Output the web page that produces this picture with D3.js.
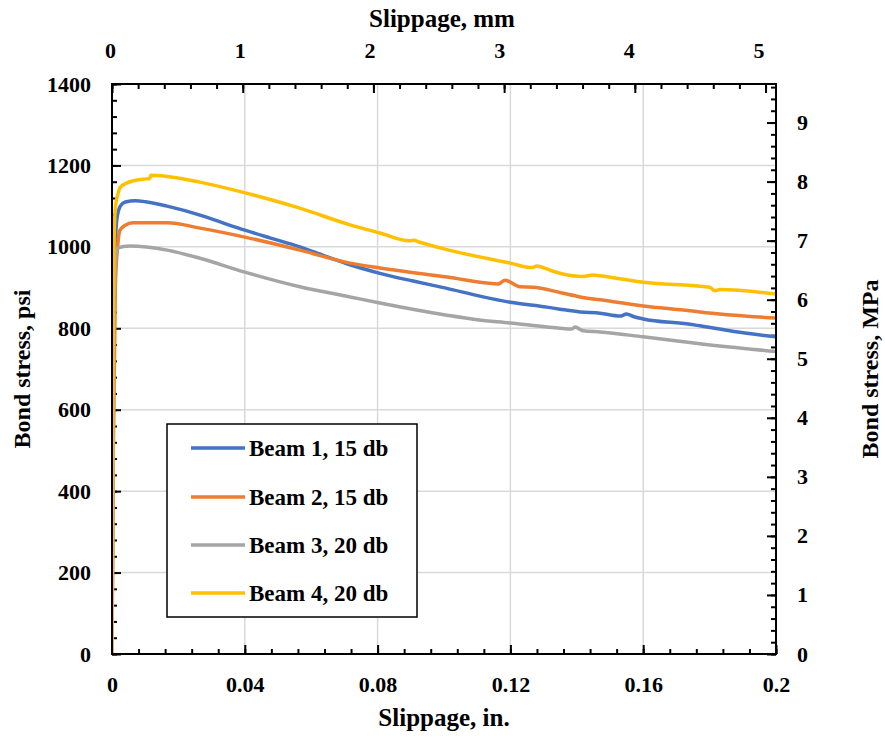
<!DOCTYPE html>
<html>
<head>
<meta charset="utf-8">
<script src="https://cdn.jsdelivr.net/npm/d3@7"></script>
<style>
  html, body { margin: 0; padding: 0; background: #fff; }
  svg text { font-family: "Liberation Serif", "Times New Roman", serif; font-weight: bold; fill: #000; }
</style>
</head>
<body>
<svg id="chart" width="885" height="738"></svg>
<script>
// ---------------- DATA ----------------
const seriesNames = ["Beam 1, 15 db", "Beam 2, 15 db", "Beam 3, 20 db", "Beam 4, 20 db"];
const seriesColors = ["#4472c4", "#ed7d31", "#a5a5a5", "#ffc000"];

// slip (in.), bond stress (psi)
const beam1Slip =   [0, 0.0003, 0.0008, 0.0015, 0.0025, 0.004, 0.007, 0.010, 0.0166, 0.0265, 0.033, 0.040, 0.048, 0.0566, 0.064, 0.0717, 0.0807, 0.0907, 0.1009, 0.1108, 0.120, 0.131, 0.1349, 0.141, 0.147, 0.153, 0.155, 0.157, 0.160, 0.1741, 0.1771, 0.1873, 0.200];
const beam1Stress = [0, 600, 950, 1070, 1100, 1110, 1113, 1111, 1100, 1078, 1060, 1041, 1021, 1000, 978, 956, 935, 916, 898, 879, 864, 852, 847, 840, 837, 830, 835, 829, 823, 810, 806, 792, 779];

const beam2Slip =   [0, 0.0004, 0.001, 0.0018, 0.0024, 0.004, 0.0063, 0.0166, 0.0265, 0.040, 0.0566, 0.0717, 0.0807, 0.1009, 0.1163, 0.1184, 0.1229, 0.1268, 0.1349, 0.141, 0.147, 0.160, 0.1741, 0.1771, 0.200];
const beam2Stress = [0, 500, 900, 1010, 1041, 1053, 1059, 1059, 1046, 1024, 992, 960, 948, 926, 909, 918, 902, 901, 888, 877, 870, 855, 843, 840, 825];

const beam3Slip =   [0, 0.0005, 0.001, 0.0015, 0.0054, 0.0166, 0.0265, 0.040, 0.0566, 0.0717, 0.0807, 0.1009, 0.110, 0.120, 0.131, 0.1349, 0.1385, 0.1395, 0.1419, 0.147, 0.160, 0.1741, 0.1771, 0.200];
const beam3Stress = [0, 700, 950, 997, 1002, 992, 972, 938, 902, 877, 862, 832, 821, 813, 803, 800, 798, 803, 794, 791, 779, 765, 762, 743];

const beam4Slip =   [0, 0.0003, 0.0006, 0.001, 0.0018, 0.0024, 0.004, 0.0063, 0.0105, 0.0114, 0.0117, 0.0166, 0.0265, 0.039, 0.0566, 0.0717, 0.0807, 0.0895, 0.091, 0.0925, 0.100, 0.120, 0.1265, 0.128, 0.129, 0.1349, 0.1417, 0.1449, 0.147, 0.160, 0.180, 0.1816, 0.183, 0.200];
const beam4Stress = [0, 700, 1000, 1095, 1130, 1145, 1155, 1162, 1167, 1168, 1176, 1173, 1159, 1135, 1095, 1054, 1034, 1015, 1016, 1012, 995, 960, 949, 953, 951, 935, 927, 931, 929, 913, 901, 892, 895, 884];

const xTicksIn = [0, 0.04, 0.08, 0.12, 0.16, 0.2];
const xTickLabelsIn = ["0", "0.04", "0.08", "0.12", "0.16", "0.2"];
const xTicksMm = [0, 1, 2, 3, 4, 5];
const yTicksPsi = [0, 200, 400, 600, 800, 1000, 1200, 1400];
const yTicksMPa = [0, 1, 2, 3, 4, 5, 6, 7, 8, 9];

const xTitleBottom = "Slippage, in.";
const xTitleTop = "Slippage, mm";
const yTitleLeft = "Bond stress, psi";
const yTitleRight = "Bond stress, MPa";

// ---------------- CHART ----------------
const svg = d3.select("#chart");
const L = 112, R = 776, T = 84, B = 654;
const IN_TO_MM = 25.4, MPA_TO_PSI = 145.038;

const x = d3.scaleLinear().domain([0, 0.2]).range([L, R]);
const xmm = d3.scaleLinear().domain([0, 0.2 * IN_TO_MM]).range([L, R]);
const y = d3.scaleLinear().domain([0, 1400]).range([B, T]);
const ympa = d3.scaleLinear().domain([0, 1400 / MPA_TO_PSI]).range([B, T]);

svg.append("rect").attr("width", 885).attr("height", 738).attr("fill", "#fff");

// gridlines
const grid = svg.append("g");
grid.selectAll("line.v").data(xTicksIn.slice(1, -1)).join("line")
  .attr("x1", d => x(d)).attr("x2", d => x(d)).attr("y1", T).attr("y2", B)
  .attr("stroke", "#d9d9d9").attr("stroke-width", 1.5);
grid.selectAll("line.h").data(yTicksPsi.slice(1, -1)).join("line")
  .attr("x1", L).attr("x2", R).attr("y1", d => y(d)).attr("y2", d => y(d))
  .attr("stroke", "#d9d9d9").attr("stroke-width", 1.5);

// axes helper: ticks inward
function styleAxis(g) {
  g.select(".domain").remove();
  g.selectAll(".tick line").attr("stroke", "#000").attr("stroke-width", 2);
  g.selectAll(".tick text").attr("font-size", 22).attr("font-family", "Liberation Serif").attr("font-weight", "bold");
}
const minorIn = d3.range(0, 0.2001, 0.008);
const minorMm = d3.range(0, 5.0801, 0.2);
const minorPsi = d3.range(0, 1400.1, 40);
const minorMPa = d3.range(0, 9.65, 0.2);

// bottom
const gB = svg.append("g").attr("transform", `translate(0,${B})`);
gB.append("g").call(d3.axisBottom(x).tickValues(minorIn).tickSize(-5).tickFormat("")).call(styleAxis);
gB.append("g").call(d3.axisBottom(x).tickValues(xTicksIn).tickSize(-9).tickPadding(22)
  .tickFormat((d, i) => xTickLabelsIn[i])).call(styleAxis);
// top
const gT = svg.append("g").attr("transform", `translate(0,${T})`);
gT.append("g").call(d3.axisTop(xmm).tickValues(minorMm).tickSize(-5).tickFormat("")).call(styleAxis);
gT.append("g").call(d3.axisTop(xmm).tickValues(xTicksMm).tickSize(-9).tickPadding(26)
  .tickFormat(d3.format("d"))).call(styleAxis);
gT.selectAll(".tick text").attr("dx", d => -2 - d * 1);
// left
const gL = svg.append("g").attr("transform", `translate(${L},0)`);
gL.append("g").call(d3.axisLeft(y).tickValues(minorPsi).tickSize(-5).tickFormat("")).call(styleAxis);
gL.append("g").call(d3.axisLeft(y).tickValues(yTicksPsi).tickSize(-9).tickPadding(21)
  .tickFormat(d3.format("d"))).call(styleAxis);
// right
const gR = svg.append("g").attr("transform", `translate(${R},0)`);
gR.append("g").call(d3.axisRight(ympa).tickValues(minorMPa).tickSize(-5).tickFormat("")).call(styleAxis);
gR.append("g").call(d3.axisRight(ympa).tickValues(yTicksMPa).tickSize(-9).tickPadding(21)
  .tickFormat(d3.format("d"))).call(styleAxis);

// series
const defs = svg.append("defs");
defs.append("clipPath").attr("id", "clip").append("rect")
  .attr("x", L).attr("y", T).attr("width", R - L).attr("height", B - T);
const slips = [beam1Slip, beam2Slip, beam3Slip, beam4Slip];
const stresses = [beam1Stress, beam2Stress, beam3Stress, beam4Stress];
const line = d3.line().x(d => x(d[0])).y(d => y(d[1])).curve(d3.curveMonotoneX);
const gS = svg.append("g").attr("clip-path", "url(#clip)");
slips.forEach((s, i) => {
  const pts = s.map((v, j) => [v, stresses[i][j]]);
  gS.append("path").datum(pts).attr("d", line)
    .attr("fill", "none").attr("stroke", seriesColors[i])
    .attr("stroke-width", 3.5).attr("stroke-linejoin", "round").attr("stroke-linecap", "round");
});

// frame
svg.append("rect").attr("x", L).attr("y", T).attr("width", R - L).attr("height", B - T)
  .attr("fill", "none").attr("stroke", "#000").attr("stroke-width", 2);

// titles
svg.append("text").attr("x", (L + R) / 2).attr("y", 726).attr("text-anchor", "middle")
  .attr("font-size", 25).text(xTitleBottom);
svg.append("text").attr("x", (L + R) / 2 - 2).attr("y", 27).attr("text-anchor", "middle")
  .attr("font-size", 25).text(xTitleTop);
svg.append("text").attr("transform", `translate(30,${(T + B) / 2}) rotate(-90)`)
  .attr("text-anchor", "middle").attr("font-size", 24).text(yTitleLeft);
svg.append("text").attr("transform", `translate(878,${(T + B) / 2}) rotate(-90)`)
  .attr("text-anchor", "middle").attr("font-size", 24).text(yTitleRight);

// legend
const lg = svg.append("g");
lg.append("rect").attr("x", 167).attr("y", 424).attr("width", 250).attr("height", 193)
  .attr("fill", "#fff").attr("stroke", "#000").attr("stroke-width", 1.5);
const rowY = [448, 497, 545, 593];
seriesNames.forEach((n, i) => {
  lg.append("line").attr("x1", 191).attr("x2", 245).attr("y1", rowY[i]).attr("y2", rowY[i])
    .attr("stroke", seriesColors[i]).attr("stroke-width", 3.5);
  lg.append("text").attr("x", 249).attr("y", rowY[i]).attr("dy", "0.35em")
    .attr("font-size", 23).text(n);
});
</script>
</body>
</html>
